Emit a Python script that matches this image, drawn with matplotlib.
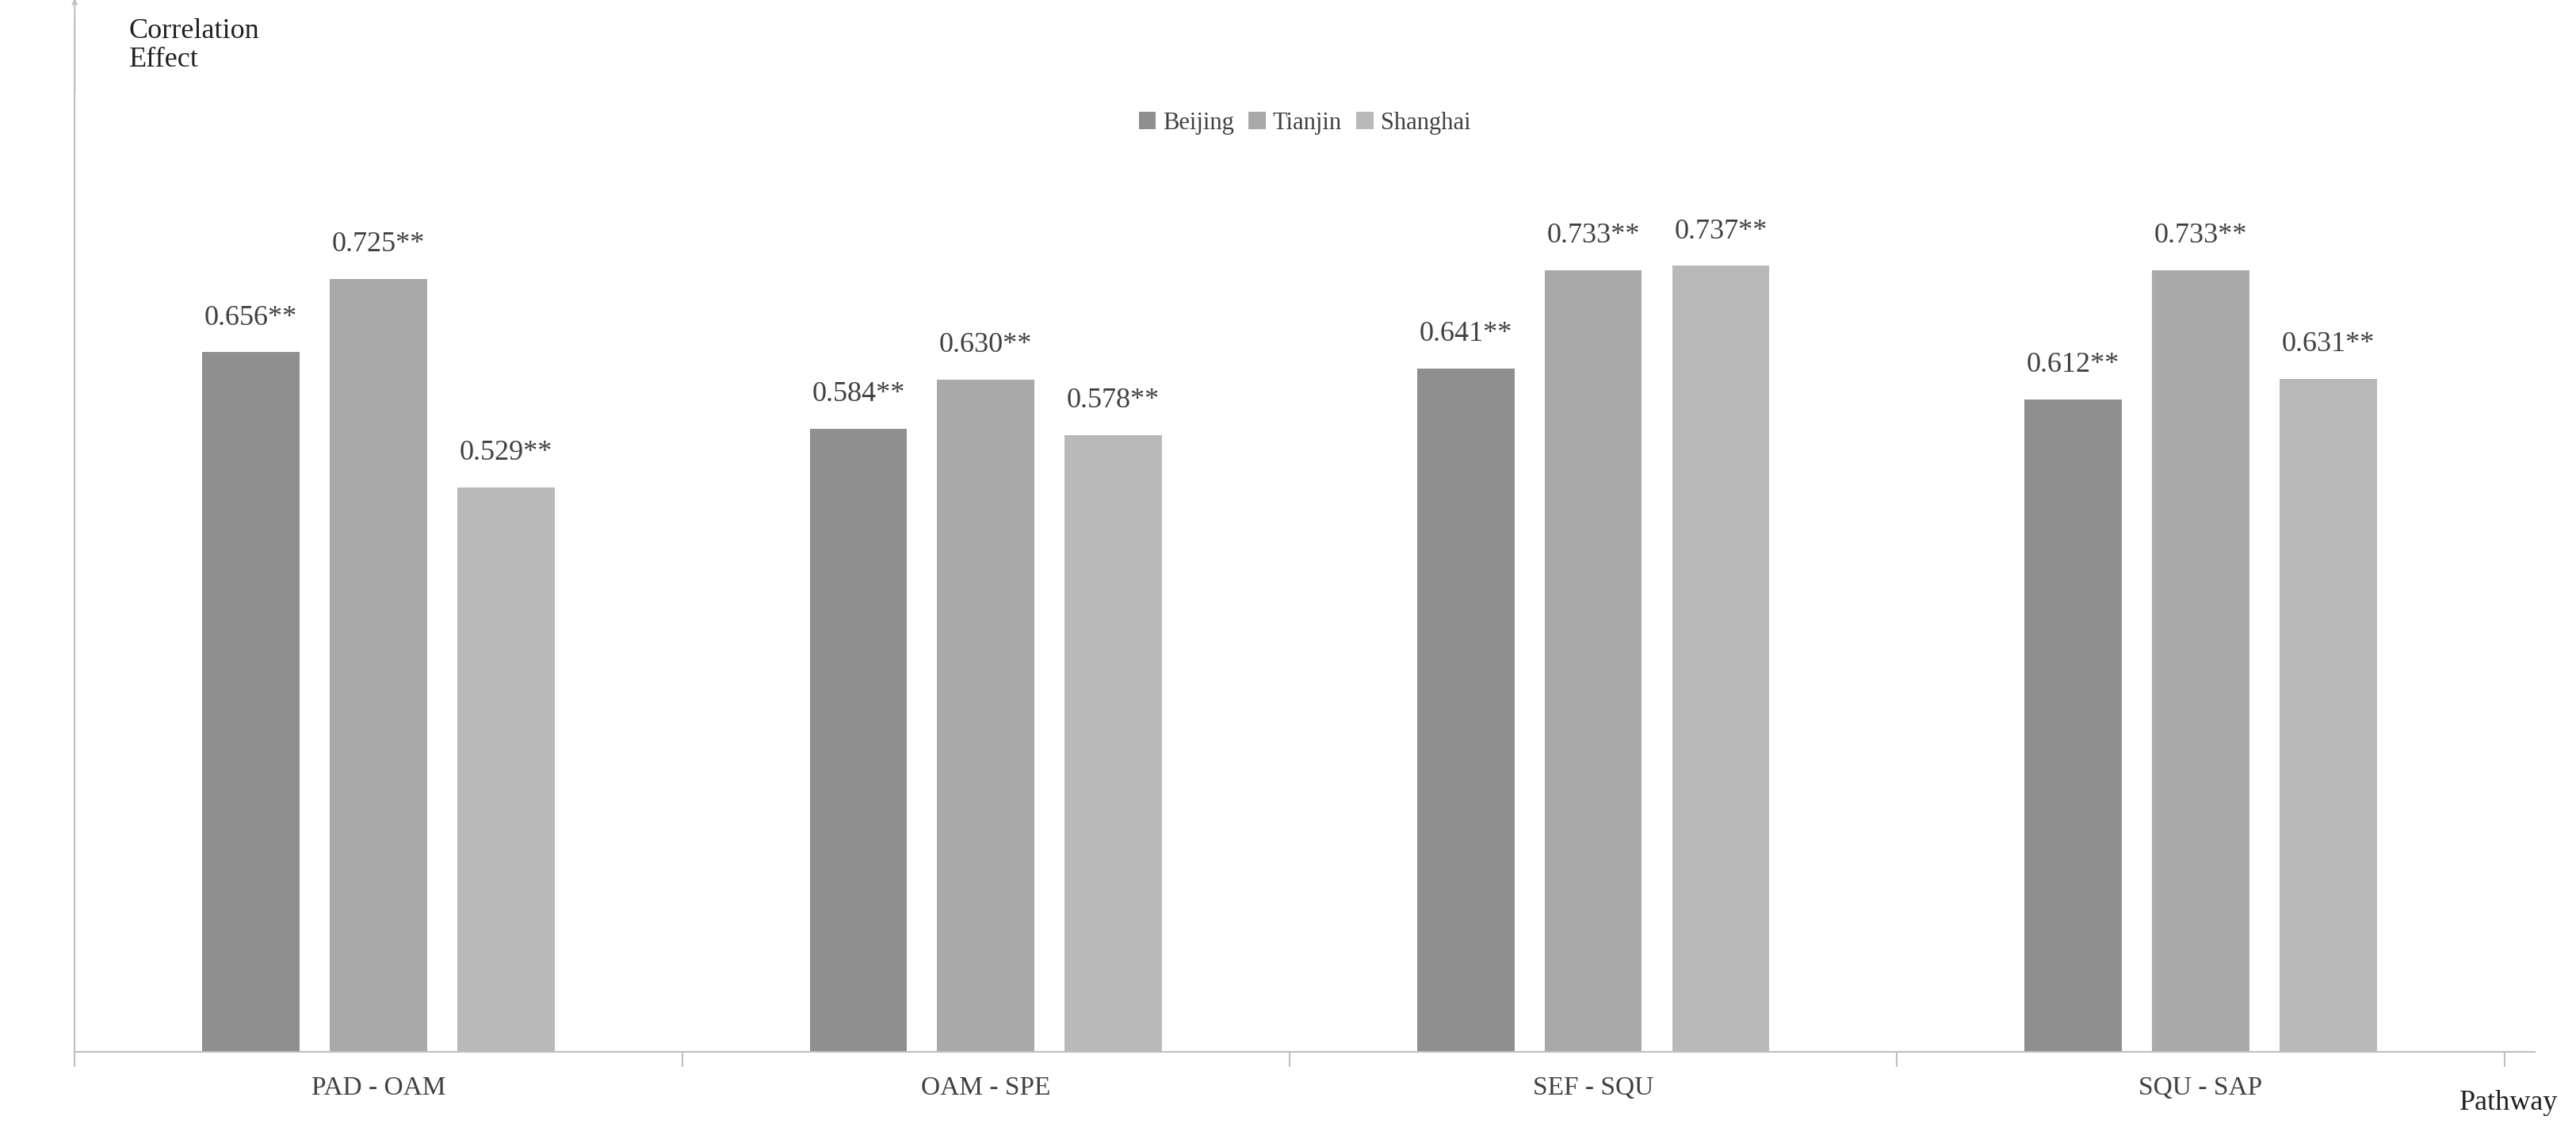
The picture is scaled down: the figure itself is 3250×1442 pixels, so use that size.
import numpy as np
import matplotlib.pyplot as plt

pathways = ['PAD - OAM', 'OAM - SPE', 'SEF - SQU', 'SQU - SAP']
beijing = [0.656, 0.584, 0.641, 0.612]
tianjin = [0.725, 0.630, 0.733, 0.733]
shanghai = [0.529, 0.578, 0.737, 0.631]
cities = ['Beijing', 'Tianjin', 'Shanghai']
colors = ['#8f8f8f', '#a9a9a9', '#b9b9b9']

plt.rcParams['font.family'] = ['Liberation Serif', 'DejaVu Serif']

fig = plt.figure(figsize=(32.5, 14.42), dpi=100)
ax = fig.add_axes([0.029, 0.08, 0.955, 0.9])

x = np.arange(len(pathways))
w = 0.16
step = 0.21
for i, (vals, c, name) in enumerate(zip([beijing, tianjin, shanghai], colors, cities)):
    bars = ax.bar(x + (i - 1) * step, vals, w, color=c, label=name)
    for b, v in zip(bars, vals):
        ax.text(b.get_x() + b.get_width() / 2, v + 0.02, f'{v:.3f}**',
                ha='center', va='bottom', fontsize=26, color='#404040')

ax.set_xlim(-0.5, 3.55)
ax.set_ylim(0, 0.965)
ax.set_xticks(x)
ax.set_xticklabels(pathways, fontsize=24, color='#404040')
ax.set_xticks(np.arange(-0.5, 3.6, 1), minor=True)
ax.tick_params(axis='x', which='major', length=0, pad=22)
ax.tick_params(axis='x', which='minor', length=14, color='#bfbfbf', width=1.5)
ax.set_yticks([])
for s in ['top', 'right']:
    ax.spines[s].set_visible(False)
ax.spines['left'].set_color('#bfbfbf')
ax.spines['bottom'].set_color('#bfbfbf')
ax.spines['left'].set_linewidth(1.5)
ax.spines['bottom'].set_linewidth(1.5)
ax.annotate('', xy=(-0.5, 0.99), xytext=(-0.5, 0.9), xycoords='data',
            arrowprops=dict(arrowstyle='->', color='#bfbfbf', lw=1.5), annotation_clip=False)

fig.text(0.05, 0.96, 'Correlation\nEffect', fontsize=26, ha='left', va='center', color='#202020', linespacing=1.1)
fig.text(0.993, 0.035, 'Pathway', fontsize=26, ha='right', va='center', color='#202020')

ax.legend(loc='upper center', bbox_to_anchor=(0.5, 0.935), ncol=3, frameon=False,
          fontsize=22, handlelength=0.7, handleheight=0.7, columnspacing=0.6,
          handletextpad=0.3, labelcolor='#404040')

fig.savefig('out.png', dpi=100)
